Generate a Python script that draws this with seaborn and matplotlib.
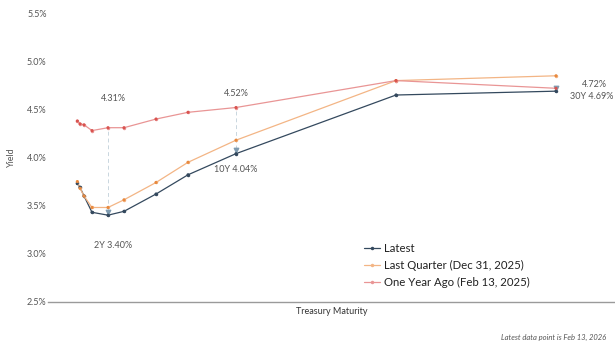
# ===== Treasury yield curve =====
import numpy as np
import pandas as pd
import matplotlib
matplotlib.use('Agg')
import matplotlib.pyplot as plt
import seaborn as sns

sns.set_theme(style='white')
plt.rcParams['font.family'] = ['Lato', 'DejaVu Sans']

# ===== Data =====
maturities = ['1M', '3M', '6M', '1Y', '2Y', '3Y', '5Y', '7Y', '10Y', '20Y', '30Y']
years = [1 / 12, 0.25, 0.5, 1, 2, 3, 5, 7, 10, 20, 30]
latest = [3.73, 3.69, 3.60, 3.43, 3.40, 3.44, 3.62, 3.82, 4.04, 4.65, 4.69]
last_quarter = [3.75, 3.68, 3.60, 3.48, 3.48, 3.56, 3.74, 3.95, 4.18, 4.80, 4.85]
year_ago = [4.38, 4.35, 4.34, 4.28, 4.31, 4.31, 4.40, 4.47, 4.52, 4.80, 4.72]

series_names = ['Latest', 'Last Quarter (Dec 31, 2025)', 'One Year Ago (Feb 13, 2025)']
line_colors = ['#34495e', '#f3b585', '#e99595']
dot_colors = ['#34495e', '#e8893e', '#d9534f']
callouts = ['2Y', '10Y', '30Y']

df = pd.concat([
    pd.DataFrame({'maturity': maturities, 'years': years, 'yield': vals, 'series': name})
    for name, vals in zip(series_names, [latest, last_quarter, year_ago])
])

# ===== Plot =====
fig = plt.figure(figsize=(6.15, 3.47), dpi=100)
ax = fig.add_axes([48 / 615, 1 - 301.7 / 347, 1 - 48 / 615, (301.7 - 13.3) / 347])

sns.lineplot(data=df, x='years', y='yield', hue='series', hue_order=series_names,
             palette=line_colors, marker='o', markersize=2.5, markeredgewidth=0,
             linewidth=0.9, sort=False, ax=ax)
sns.scatterplot(data=df, x='years', y='yield', hue='series', hue_order=series_names,
                palette=dot_colors, s=5, linewidth=0, legend=False, ax=ax, zorder=4)

# dashed connectors + labels at callout maturities
text_kw = dict(fontsize=6.5, color='#555555', textcoords='offset pixels')
for m in callouts:
    i = maturities.index(m)
    x, top, bot = years[i], year_ago[i], latest[i]
    ax.vlines(x, bot + 0.05, top, colors='#c9d6df', linestyles=(0, (4, 3)), linewidth=0.7, zorder=1)
    ax.scatter([x], [bot + 0.035], marker='v', s=10, color='#7f9bb0', zorder=3)
    if m == '2Y':
        ax.annotate(f'{top:.2f}%', (x, top), xytext=(5, 29), ha='center', va='center', **text_kw)
        ax.annotate(f'{m} {bot:.2f}%', (x, bot), xytext=(5, -30), ha='center', va='center', **text_kw)
    elif m == '10Y':
        ax.annotate(f'{top:.2f}%', (x, top), xytext=(0, 14), ha='center', va='center', **text_kw)
        ax.annotate(f'{m} {bot:.2f}%', (x, bot), xytext=(0, -16), ha='center', va='center', **text_kw)
    else:
        ax.annotate(f'{top:.2f}%', (x, top), xytext=(38, 4), ha='center', va='center', **text_kw)
        ax.annotate(f'{m} {bot:.2f}%', (x, bot), xytext=(36, -5), ha='center', va='center', **text_kw)

ax.set_xlim(-1.75, (615 - 76) / 16)
ax.set_ylim(2.5, 5.5)
ax.set_yticks(np.arange(2.5, 5.51, 0.5))
ax.set_yticklabels([f'{v:.1f}%' for v in np.arange(2.5, 5.51, 0.5)])
ax.set_xticks([])
ax.tick_params(axis='y', length=0, pad=1, labelsize=6.5, labelcolor='#555555')
ax.set_xlabel('Treasury Maturity', fontsize=6.5, color='#333333', labelpad=4)
ax.set_ylabel('Yield', fontsize=6.5, color='#555555', labelpad=8)

for side in ['top', 'right', 'left']:
    ax.spines[side].set_visible(False)
ax.spines['bottom'].set_color('#9a9a9a')
ax.spines['bottom'].set_linewidth(1.0)

leg = ax.legend(loc='upper left', bbox_to_anchor=(0.55, 0.22), frameon=False,
                fontsize=8.2, handlelength=1.4, handletextpad=0.3, labelspacing=0.55,
                borderaxespad=0)
for t in leg.get_texts():
    t.set_color('#222222')

fig.text(0.985, 0.018, 'Latest data point is Feb 13, 2026', ha='right', va='bottom',
         fontsize=5.5, style='italic', color='#555555')

fig.savefig('out.png', dpi=100)
